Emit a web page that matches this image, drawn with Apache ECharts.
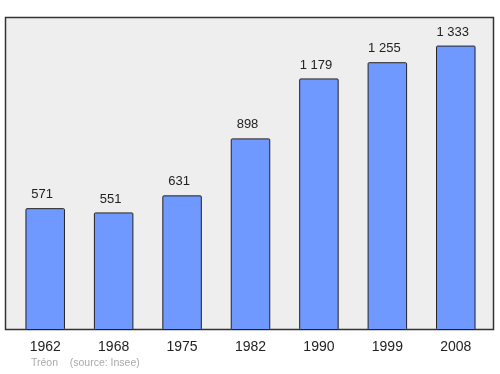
<!DOCTYPE html>
<html><head><meta charset="utf-8">
<script src="https://cdn.jsdelivr.net/npm/echarts@6/dist/echarts.min.js"></script>
<style>html,body{margin:0;padding:0;background:#fff}#c{width:500px;height:374px}</style>
</head><body><div id="c"></div>
<script>
var years = ['1962','1968','1975','1982','1990','1999','2008'];
var population = [571, 551, 631, 898, 1179, 1255, 1333];
var valueLabels = ['571','551','631','898','1 179','1 255','1 333'];

var chart = echarts.init(document.getElementById('c'), null, {renderer:'canvas'});
chart.setOption({
  animation:false,
  backgroundColor:'#ffffff',
  title:{text:'Tréon    (source: Insee)', left:26, top:353,
    textStyle:{fontFamily:'Liberation Sans, Arial, sans-serif', fontSize:10.5, fontWeight:'normal', color:'#aaaaaa'}},
  graphic:[{type:'rect', z:-1, shape:{x:5.5, y:17.5, width:488, height:312},
    style:{fill:'#eeeeee', stroke:'#333333', lineWidth:1.5}}],
  grid:{left:11, right:10, top:17, bottom:44, show:false},
  xAxis:{type:'category', data:years,
    axisLine:{show:false}, axisTick:{show:false},
    axisLabel:{margin:10, fontSize:14, color:'#222', fontFamily:'Liberation Sans, Arial, sans-serif'}},
  yAxis:{type:'value', min:0, max:1467, show:false, splitLine:{show:false}},
  series:[{type:'bar', data:population, barWidth:39.5,
    itemStyle:{color:'#7099ff', borderColor:'#222222', borderWidth:1, borderRadius:1},
    label:{show:true, position:'top', distance:7, offset:[-3,0], fontSize:13, color:'#222',
      fontFamily:'Liberation Sans, Arial, sans-serif',
      formatter:function(p){return valueLabels[p.dataIndex];}}}]
});
</script></body></html>
